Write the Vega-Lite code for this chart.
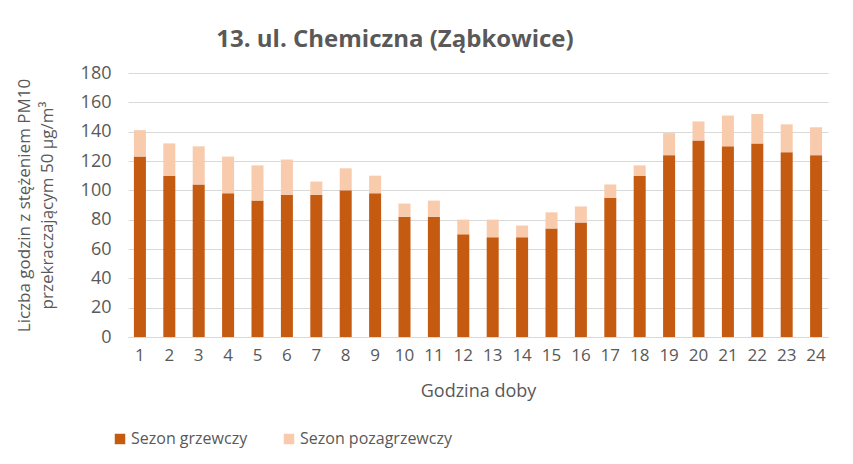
{
  "$schema": "https://vega.github.io/schema/vega-lite/v6.json",
  "width": 700,
  "height": 264,
  "autosize": {"type": "none"},
  "padding": {"left": 128, "top": 73, "right": 25, "bottom": 127},
  "background": "white",
  "title": {
    "text": "13. ul. Chemiczna (Ząbkowice)",
    "font": "Open Sans",
    "fontSize": 24,
    "fontWeight": "bold",
    "color": "#595959",
    "anchor": "middle",
    "dx": -83,
    "offset": 12
  },
  "data": {
    "values": [
      {"h": 1, "s": "Sezon grzewczy", "v": 123}, {"h": 1, "s": "Sezon pozagrzewczy", "v": 18},
      {"h": 2, "s": "Sezon grzewczy", "v": 110}, {"h": 2, "s": "Sezon pozagrzewczy", "v": 22},
      {"h": 3, "s": "Sezon grzewczy", "v": 104}, {"h": 3, "s": "Sezon pozagrzewczy", "v": 26},
      {"h": 4, "s": "Sezon grzewczy", "v": 98}, {"h": 4, "s": "Sezon pozagrzewczy", "v": 25},
      {"h": 5, "s": "Sezon grzewczy", "v": 93}, {"h": 5, "s": "Sezon pozagrzewczy", "v": 24},
      {"h": 6, "s": "Sezon grzewczy", "v": 97}, {"h": 6, "s": "Sezon pozagrzewczy", "v": 24},
      {"h": 7, "s": "Sezon grzewczy", "v": 97}, {"h": 7, "s": "Sezon pozagrzewczy", "v": 9},
      {"h": 8, "s": "Sezon grzewczy", "v": 100}, {"h": 8, "s": "Sezon pozagrzewczy", "v": 15},
      {"h": 9, "s": "Sezon grzewczy", "v": 98}, {"h": 9, "s": "Sezon pozagrzewczy", "v": 12},
      {"h": 10, "s": "Sezon grzewczy", "v": 82}, {"h": 10, "s": "Sezon pozagrzewczy", "v": 9},
      {"h": 11, "s": "Sezon grzewczy", "v": 82}, {"h": 11, "s": "Sezon pozagrzewczy", "v": 11},
      {"h": 12, "s": "Sezon grzewczy", "v": 70}, {"h": 12, "s": "Sezon pozagrzewczy", "v": 10},
      {"h": 13, "s": "Sezon grzewczy", "v": 68}, {"h": 13, "s": "Sezon pozagrzewczy", "v": 12},
      {"h": 14, "s": "Sezon grzewczy", "v": 68}, {"h": 14, "s": "Sezon pozagrzewczy", "v": 8},
      {"h": 15, "s": "Sezon grzewczy", "v": 74}, {"h": 15, "s": "Sezon pozagrzewczy", "v": 11},
      {"h": 16, "s": "Sezon grzewczy", "v": 78}, {"h": 16, "s": "Sezon pozagrzewczy", "v": 11},
      {"h": 17, "s": "Sezon grzewczy", "v": 95}, {"h": 17, "s": "Sezon pozagrzewczy", "v": 9},
      {"h": 18, "s": "Sezon grzewczy", "v": 110}, {"h": 18, "s": "Sezon pozagrzewczy", "v": 7},
      {"h": 19, "s": "Sezon grzewczy", "v": 124}, {"h": 19, "s": "Sezon pozagrzewczy", "v": 15},
      {"h": 20, "s": "Sezon grzewczy", "v": 134}, {"h": 20, "s": "Sezon pozagrzewczy", "v": 13},
      {"h": 21, "s": "Sezon grzewczy", "v": 130}, {"h": 21, "s": "Sezon pozagrzewczy", "v": 21},
      {"h": 22, "s": "Sezon grzewczy", "v": 132}, {"h": 22, "s": "Sezon pozagrzewczy", "v": 20},
      {"h": 23, "s": "Sezon grzewczy", "v": 126}, {"h": 23, "s": "Sezon pozagrzewczy", "v": 19},
      {"h": 24, "s": "Sezon grzewczy", "v": 124}, {"h": 24, "s": "Sezon pozagrzewczy", "v": 19}
    ]
  },
  "mark": {"type": "bar", "width": 12},
  "encoding": {
    "x": {
      "field": "h",
      "type": "ordinal",
      "title": "Godzina doby",
      "scale": {"paddingInner": 0.59, "paddingOuter": 0.2},
      "axis": {
        "labelAngle": 0,
        "labelFont": "Open Sans",
        "labelFontSize": 17,
        "labelColor": "#595959",
        "labelPadding": 10,
        "ticks": false,
        "domainColor": "#D9D9D9",
        "titleFont": "Open Sans",
        "titleFontSize": 18,
        "titleFontWeight": "normal",
        "titleColor": "#595959",
        "titlePadding": 19
      }
    },
    "y": {
      "field": "v",
      "type": "quantitative",
      "aggregate": "sum",
      "stack": "zero",
      "scale": {"domain": [0, 180]},
      "title": ["Liczba godzin z stężeniem PM10", "przekraczającym  50 µg/m³"],
      "axis": {
        "values": [0, 20, 40, 60, 80, 100, 120, 140, 160, 180],
        "domain": false,
        "ticks": false,
        "gridColor": "#D9D9D9",
        "labelFont": "Open Sans",
        "labelFontSize": 18,
        "labelColor": "#595959",
        "labelPadding": 17,
        "titleFont": "Open Sans",
        "titleFontSize": 17,
        "titleFontWeight": "normal",
        "titleColor": "#595959",
        "titlePadding": 24,
        "titleLineHeight": 23
      }
    },
    "color": {
      "field": "s",
      "type": "nominal",
      "scale": {"domain": ["Sezon grzewczy", "Sezon pozagrzewczy"], "range": ["#C55A11", "#F8CBAD"]},
      "legend": {
        "title": null,
        "orient": "none",
        "direction": "horizontal",
        "legendX": -16,
        "legendY": 358,
        "symbolType": "square",
        "symbolSize": 110,
        "symbolStrokeWidth": 0,
        "labelFont": "Open Sans",
        "labelFontSize": 16,
        "labelColor": "#595959",
        "labelOffset": 3,
        "columnPadding": 33
      }
    },
    "order": {"field": "s", "sort": "ascending"}
  },
  "config": {"view": {"stroke": null}}
}
